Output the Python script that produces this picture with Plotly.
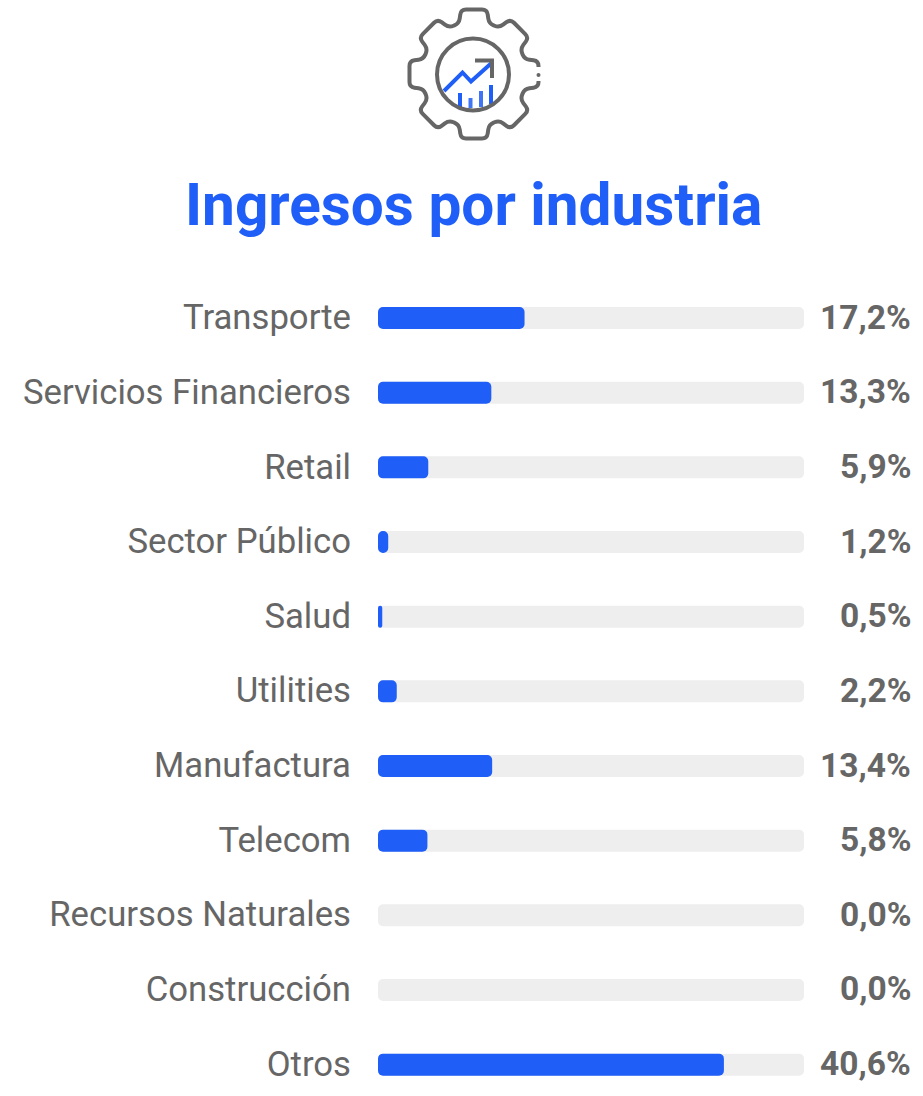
import math
import plotly.graph_objects as go

categories = ["Transporte", "Servicios Financieros", "Retail", "Sector Público", "Salud",
              "Utilities", "Manufactura", "Telecom", "Recursos Naturales", "Construcción", "Otros"]
values = [17.2, 13.3, 5.9, 1.2, 0.5, 2.2, 13.4, 5.8, 0.0, 0.0, 40.6]
scale_max = 50
title_text = "Ingresos por industria"

BLUE = "#1f5ef7"
GREY = "#666666"
TRACK = "#eeeeee"
W, H = 923, 1096


def px(x):
    return x / W


def py(y):
    return 1 - y / H


def pt(x, y):
    return f"{px(x):.5f},{py(y):.5f}"


def gear_path(cx, cy):
    """Rounded eight-tooth gear outline for the decorative icon."""
    verts = []
    for k in range(8):
        a = k * math.pi / 4
        for u, v in [(-15, -50.5), (-13, -64.5), (13, -64.5), (15, -50.5)]:
            verts.append((cx + u * math.cos(a) - v * math.sin(a),
                          cy + u * math.sin(a) + v * math.cos(a)))
    n = len(verts)
    d = ""
    for i, (x, y) in enumerate(verts):
        x0, y0 = verts[i - 1]
        x1, y1 = verts[(i + 1) % n]
        l0 = math.hypot(x0 - x, y0 - y)
        l1 = math.hypot(x1 - x, y1 - y)
        r0 = min(5, l0 / 2)
        r1 = min(5, l1 / 2)
        a = (x + (x0 - x) * r0 / l0, y + (y0 - y) * r0 / l0)
        b = (x + (x1 - x) * r1 / l1, y + (y1 - y) * r1 / l1)
        d += ("M" if i == 0 else "L") + pt(*a) + " Q" + pt(x, y) + " " + pt(*b) + " "
    return d + "Z"


def polyline(points):
    return "M" + " L".join(pt(x, y) for x, y in points)


cx, cy = 474, 74
shapes = [
    dict(type="path", xref="paper", yref="paper", path=gear_path(cx, cy),
         line=dict(color=GREY, width=4), fillcolor="white"),
    # gap in the gear's right tooth, with its dot
    dict(type="rect", xref="paper", yref="paper", x0=px(533), x1=px(545), y0=py(81), y1=py(67),
         fillcolor="white", line=dict(width=0)),
    dict(type="circle", xref="paper", yref="paper", x0=px(536.5), x1=px(540.5), y0=py(77), y1=py(73),
         fillcolor=GREY, line=dict(width=0)),
    # little bars inside the icon
    dict(type="path", xref="paper", yref="paper", path=polyline([(460, 93), (460, 108)]),
         line=dict(color=BLUE, width=4)),
    dict(type="path", xref="paper", yref="paper", path=polyline([(470.5, 98), (470.5, 108)]),
         line=dict(color="#3f74f5", width=4)),
    dict(type="path", xref="paper", yref="paper", path=polyline([(481, 91), (481, 107)]),
         line=dict(color="#3f74f5", width=4)),
    dict(type="path", xref="paper", yref="paper", path=polyline([(491, 85), (491, 104)]),
         line=dict(color=BLUE, width=4)),
    # inner ring
    dict(type="circle", xref="paper", yref="paper", x0=px(473 - 36), x1=px(473 + 36),
         y0=py(74.5 + 36), y1=py(74.5 - 36), line=dict(color=GREY, width=4)),
    # trend line and arrow head
    dict(type="path", xref="paper", yref="paper",
         path=polyline([(444, 91), (462.5, 72.5), (471, 81.5), (491, 63.5)]),
         line=dict(color=BLUE, width=4)),
    dict(type="path", xref="paper", yref="paper",
         path=polyline([(475, 60.5), (492, 60.5), (492, 78)]),
         line=dict(color=GREY, width=4)),
]

fig = go.Figure()
zero_base = [0] * len(categories)
fig.add_trace(go.Bar(y=categories, x=[scale_max] * len(categories), base=zero_base, orientation="h",
                     marker=dict(color=TRACK, line=dict(width=0), cornerradius=5),
                     width=0.295, hoverinfo="skip", showlegend=False))
fig.add_trace(go.Bar(y=categories, x=values, base=zero_base, orientation="h",
                     marker=dict(color=BLUE, line=dict(width=0), cornerradius=5),
                     width=0.295, showlegend=False))

annotations = [dict(text=f"<b>{title_text}</b>", xref="paper", yref="paper", x=px(473.5), y=py(205),
                    xanchor="center", yanchor="middle", showarrow=False,
                    font=dict(family="Roboto", size=58.5, color=BLUE))]
for c, v in zip(categories, values):
    annotations.append(dict(text=f"<b>{v:.1f}%</b>".replace(".", ","), x=px(913), xref="paper",
                            y=c, yref="y", xanchor="right", yanchor="middle", showarrow=False,
                            yshift=1,
                            font=dict(family="Roboto", size=33.5, color=GREY)))

fig.update_layout(
    width=W, height=H, autosize=False,
    margin=dict(l=0, r=0, t=0, b=0),
    paper_bgcolor="white", plot_bgcolor="white",
    barmode="overlay", shapes=shapes, annotations=annotations,
    xaxis=dict(domain=[px(378), px(804)], range=[0, scale_max], visible=False, fixedrange=True),
    yaxis=dict(domain=[0, py(280.7)], range=[10.42, -0.5], type="category",
               categoryorder="array", categoryarray=categories, automargin=False,
               showgrid=False, zeroline=False, showline=False, ticks="",
               ticklabelstandoff=26, ticklabelshift=1, fixedrange=True,
               tickfont=dict(family="Roboto", size=34.7, color=GREY)),
)
fig.write_html("out.html", config=dict(displayModeBar=False),
               post_script="document.body.style.margin='0';")
